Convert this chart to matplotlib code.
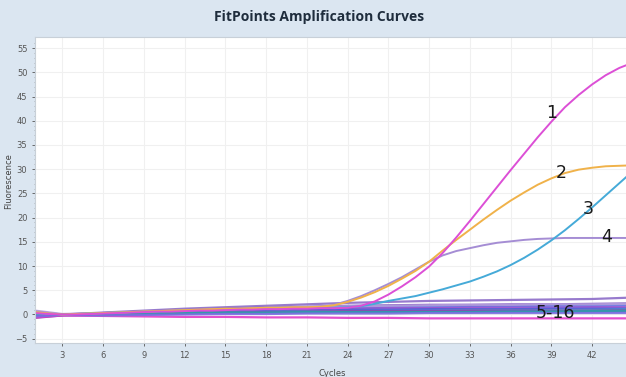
import numpy as np
import matplotlib
matplotlib.use("Agg")
import matplotlib.pyplot as plt

# cycles for the four amplified samples
cycles = np.arange(1, 46)
curve_1 = [0.3, 0.1, 0.0, 0.0, 0.1, 0.2, 0.3, 0.4, 0.5, 0.6, 0.6, 0.7, 0.8, 0.8, 0.9,
           1.0, 1.0, 1.1, 1.1, 1.2, 1.2, 1.3, 1.3, 1.4, 1.8, 2.7, 4.1, 5.8, 7.7, 9.9,
           12.7, 15.9, 19.3, 22.8, 26.3, 29.8, 33.2, 36.6, 39.8, 42.8, 45.3, 47.5, 49.4, 50.9, 52.0]
curve_2 = [0.5, 0.2, 0.0, 0.1, 0.2, 0.3, 0.4, 0.5, 0.6, 0.7, 0.8, 0.9, 1.0, 1.1, 1.2,
           1.2, 1.3, 1.4, 1.4, 1.5, 1.5, 1.6, 1.9, 2.6, 3.5, 4.6, 5.9, 7.4, 9.0, 10.9,
           13.2, 15.4, 17.5, 19.6, 21.6, 23.5, 25.2, 26.8, 28.1, 29.2, 29.9, 30.3, 30.6, 30.7, 30.8]
curve_3 = [0.2, 0.1, 0.0, 0.1, 0.2, 0.3, 0.4, 0.5, 0.5, 0.6, 0.7, 0.8, 0.9, 0.9, 1.0,
           1.1, 1.1, 1.2, 1.2, 1.3, 1.3, 1.4, 1.4, 1.5, 1.7, 2.2, 2.8, 3.3, 3.8, 4.5,
           5.2, 6.0, 6.8, 7.8, 8.9, 10.2, 11.7, 13.4, 15.3, 17.4, 19.7, 22.1, 24.6, 27.1, 29.6]
curve_4 = [0.6, 0.3, 0.0, 0.1, 0.2, 0.3, 0.4, 0.5, 0.6, 0.7, 0.8, 0.9, 1.0, 1.1, 1.2,
           1.2, 1.3, 1.4, 1.4, 1.5, 1.5, 1.6, 2.0, 2.8, 3.8, 5.0, 6.3, 7.7, 9.3, 10.9,
           12.2, 13.1, 13.7, 14.3, 14.8, 15.1, 15.4, 15.6, 15.7, 15.8, 15.8, 15.8, 15.8, 15.8, 15.8]
main_colors = ["#dc4fd6", "#f0b24a", "#45aad8", "#a58dd4"]

# flat samples 5-16, read every 3 cycles
base_cycles = [1, 3, 6, 9, 12, 15, 18, 21, 24, 27, 30, 33, 36, 39, 42, 45]
base_5 = [0.6, 0.0, 0.4, 0.8, 1.2, 1.5, 1.8, 2.1, 2.4, 2.6, 2.8, 2.9, 3.0, 3.1, 3.2, 3.5]
base_6 = [0.3, 0.0, 0.3, 0.6, 0.9, 1.2, 1.4, 1.6, 1.8, 1.9, 2.0, 2.0, 2.1, 2.1, 2.2, 2.3]
base_7 = [0.0, -0.1, 0.2, 0.5, 0.8, 1.0, 1.2, 1.4, 1.5, 1.6, 1.6, 1.7, 1.7, 1.8, 1.8, 1.9]
base_8 = [-0.3, -0.1, 0.1, 0.4, 0.6, 0.8, 1.0, 1.1, 1.2, 1.3, 1.3, 1.4, 1.4, 1.4, 1.5, 1.5]
base_9 = [-0.5, -0.1, 0.0, 0.3, 0.5, 0.6, 0.8, 0.9, 1.0, 1.0, 1.1, 1.1, 1.1, 1.2, 1.2, 1.2]
base_10 = [0.2, 0.0, 0.1, 0.2, 0.3, 0.4, 0.5, 0.6, 0.6, 0.7, 0.7, 0.8, 0.8, 0.8, 0.9, 1.0]
base_11 = [-0.7, -0.2, -0.1, 0.1, 0.3, 0.4, 0.5, 0.6, 0.7, 0.7, 0.7, 0.8, 0.8, 0.8, 0.8, 0.9]
base_12 = [-0.2, -0.1, 0.0, 0.1, 0.2, 0.3, 0.4, 0.4, 0.5, 0.5, 0.5, 0.5, 0.6, 0.6, 0.6, 0.6]
base_13 = [0.8, 0.1, 0.3, 0.6, 0.9, 1.1, 1.3, 1.5, 1.7, 1.8, 1.9, 2.0, 2.0, 2.1, 2.1, 2.2]
base_14 = [-0.6, -0.2, -0.3, -0.4, -0.5, -0.5, -0.6, -0.6, -0.7, -0.7, -0.8, -0.8, -0.8, -0.8, -0.8, -0.8]
base_15 = [0.1, 0.0, 0.0, 0.2, 0.3, 0.4, 0.4, 0.5, 0.5, 0.5, 0.5, 0.5, 0.6, 0.6, 0.7, 0.8]
base_16 = [-0.4, -0.1, -0.2, -0.1, 0.0, 0.1, 0.1, 0.2, 0.2, 0.2, 0.3, 0.3, 0.3, 0.3, 0.3, 0.3]
base_colors = ["#8c6cc8", "#7e57c2", "#5b6ee1", "#9a4fd0", "#4c5fd5", "#35b5c9",
               "#8e44ad", "#6a5acd", "#b39ddb", "#e03cc8", "#2e9fa8", "#7a6fe0"]

labels = ["1", "2", "3", "4", "5-16"]
label_x = [39.0, 39.7, 41.7, 43.1, 39.3]
label_y = [41.6, 29.2, 21.8, 16.0, 0.3]

xticks = list(range(3, 46, 3))
yticks = list(range(-5, 56, 5))

fig = plt.figure(figsize=(6.26, 3.77), dpi=100, facecolor="#dbe6f1")
ax = fig.add_axes([0.056, 0.09, 0.955, 0.812])
ax.set_facecolor("white")

bases = [base_5, base_6, base_7, base_8, base_9, base_10, base_11, base_12,
         base_13, base_14, base_15, base_16]
for vals, col in zip(bases, base_colors):
    ax.plot(base_cycles, vals, color=col, lw=1.6, alpha=0.9)

for vals, col in zip([curve_4, curve_3, curve_2, curve_1], main_colors[::-1]):
    ax.plot(cycles, vals, color=col, lw=1.4)

for t, x, y in zip(labels, label_x, label_y):
    ax.text(x, y, t, fontsize=12.5, color="#1a1a1a", ha="center", va="center",
            family="Liberation Sans Narrow")

ax.set_xlim(1, 45)
ax.set_ylim(-5.9, 57.3)
ax.set_xticks(xticks)
ax.set_yticks(yticks)
ax.set_yticks(range(-5, 57), minor=True)
ax.grid(True, color="#f0f0f0", lw=0.8)
ax.set_axisbelow(True)
ax.tick_params(labelsize=6, colors="#555555", length=2, width=0.6)
ax.tick_params(axis="y", which="minor", length=1, width=0.5, colors="#999999")
for s in ax.spines.values():
    s.set_color("#c8d0d8")
    s.set_linewidth(0.8)

fig.text(0.51, 0.955, "FitPoints Amplification Curves", ha="center", va="center",
         fontsize=10, fontweight="bold", color="#1f2d3d", family="Open Sans")
fig.text(0.013, 0.52, "Fluorescence", rotation=90, ha="center", va="center",
         fontsize=6, color="#444444")
fig.text(0.53, 0.01, "Cycles", ha="center", va="center", fontsize=6, color="#444444")

fig.savefig("out.png", dpi=100, facecolor=fig.get_facecolor())
